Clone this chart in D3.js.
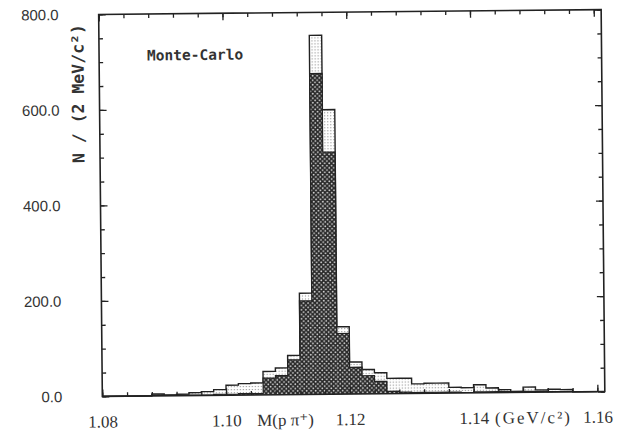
<!DOCTYPE html>
<html>
<head>
<meta charset="utf-8">
<script src="https://cdn.jsdelivr.net/npm/d3@7/dist/d3.min.js"></script>
<style>
  html, body { margin: 0; padding: 0; background: #fff; }
  svg { display: block; }
</style>
</head>
<body>
<svg id="chart" width="621" height="431"></svg>
<script>
// Invariant mass M(p pi+) histogram, 2 MeV bins (GeV/c^2)
const binLow = [
  1.080, 1.082, 1.084, 1.086, 1.088, 1.090, 1.092, 1.094, 1.096, 1.098,
  1.100, 1.102, 1.104, 1.106, 1.108, 1.110, 1.112, 1.114, 1.116, 1.118,
  1.120, 1.122, 1.124, 1.126, 1.128, 1.130, 1.132, 1.134, 1.136, 1.138,
  1.140, 1.142, 1.144, 1.146, 1.148, 1.150, 1.152, 1.154, 1.156, 1.158
];
const binWidth = 0.002;

// all reconstructed candidates (light)
const totalCounts = [
  0, 0, 0, 0, 4, 2, 3, 6, 8, 12,
  21, 24, 25, 49, 56, 82, 212, 752, 596, 141,
  67, 51, 44, 32, 32, 20, 21, 21, 12, 11,
  17, 10, 6, 2, 11, 5, 6, 5, 0, 0
];
// correctly matched candidates (dark)
const signalCounts = [
  0, 0, 0, 0, 2, 1, 1, 1, 1, 2,
  2, 3, 3, 35, 40, 73, 196, 672, 507, 127,
  56, 38, 26, 5, 3, 2, 2, 2, 2, 1,
  2, 2, 2, 2, 2, 2, 1, 1, 0, 0
];

const xTickValues = [1.08, 1.10, 1.12, 1.14, 1.16];
const xTickLabels = ["1.08", "1.10", "1.12", "1.14", "1.16"];
const yTickValues = [0, 200, 400, 600, 800];
const yTickLabels = ["0.0", "200.0", "400.0", "600.0", "800.0"];
const xMin = 1.08, xMax = 1.1612;
const yMax = 800;

const svg = d3.select("#chart");
const defs = svg.append("defs");

// fine dot screen for the light histogram
const pl = defs.append("pattern").attr("id", "lightFill")
  .attr("patternUnits", "userSpaceOnUse").attr("width", 3).attr("height", 3);
pl.append("rect").attr("width", 3).attr("height", 3).attr("fill", "#fff");
pl.append("rect").attr("x", 1).attr("y", 1).attr("width", 1.1).attr("height", 1.1).attr("fill", "#909090");

// dark screen with white dots for the signal histogram
const pd = defs.append("pattern").attr("id", "darkFill")
  .attr("patternUnits", "userSpaceOnUse").attr("width", 4.5).attr("height", 4.5);
pd.append("rect").attr("width", 4.5).attr("height", 4.5).attr("fill", "#282828");
pd.append("circle").attr("cx", 1.1).attr("cy", 1.1).attr("r", 0.9).attr("fill", "#d8d8d8");
pd.append("circle").attr("cx", 3.35).attr("cy", 3.35).attr("r", 0.9).attr("fill", "#d8d8d8");

const g = svg.append("g").attr("transform", "rotate(-0.55 352 204)");

const x = d3.scaleLinear().domain([xMin, xMax]).range([100.5, 603]);
const y = d3.scaleLinear().domain([0, yMax]).range([394, 12]);

const bins = binLow.map((lo, i) => ({ lo, hi: lo + binWidth, total: totalCounts[i], signal: signalCounts[i] }));

// step outline of a histogram
const line = d3.line().x(p => x(p[0])).y(p => y(p[1]));
function stepPoints(key) {
  const pts = [[bins[0].lo, 0]];
  bins.forEach(d => { pts.push([d.lo, d[key]], [d.hi, d[key]]); });
  pts.push([bins[bins.length - 1].hi, 0]);
  return pts;
}

function fillBars(key, fill) {
  g.append("g").selectAll("rect")
    .data(bins.filter(d => d[key] > 0))
    .join("rect")
    .attr("x", d => x(d.lo))
    .attr("width", d => x(d.hi) - x(d.lo) + 0.3)
    .attr("y", d => y(d[key]))
    .attr("height", d => y(0) - y(d[key]))
    .attr("fill", fill);
}

// light (all candidates)
fillBars("total", "url(#lightFill)");
g.append("path").attr("d", line(stepPoints("total")))
  .attr("fill", "none").attr("stroke", "#222").attr("stroke-width", 1.4);

// dark (signal)
fillBars("signal", "url(#darkFill)");
g.append("path").attr("d", line(stepPoints("signal")))
  .attr("fill", "none").attr("stroke", "#222").attr("stroke-width", 1.2);

// axes with inward ticks
const xMinor = d3.range(0, 21).map(i => +(xMin + i * 0.004).toFixed(3));
const yMinor = d3.range(0, 17).map(i => i * 50);

function styleTicks(sel) {
  sel.select(".domain").remove();
  sel.selectAll(".tick line").attr("stroke", "#222").attr("stroke-width", 1.3);
}

const fmtX = d => xTickLabels[xTickValues.indexOf(d)];
const fmtY = d => yTickLabels[yTickValues.indexOf(d)];

// bottom
g.append("g").attr("transform", `translate(0,${y(0)})`)
  .call(d3.axisBottom(x).tickValues(xMinor).tickSizeInner(-4).tickSizeOuter(0).tickFormat(""))
  .call(styleTicks);
const xb = g.append("g").attr("transform", `translate(0,${y(0)})`)
  .call(d3.axisBottom(x).tickValues(xTickValues).tickSizeInner(-7).tickSizeOuter(0).tickPadding(19).tickFormat(fmtX))
  .call(styleTicks);
xb.selectAll("text")
  .attr("font-family", "'Liberation Serif', 'DejaVu Serif', serif")
  .attr("font-size", 17).attr("fill", "#333");

// top
g.append("g").attr("transform", `translate(0,${y(yMax)})`)
  .call(d3.axisTop(x).tickValues(xMinor).tickSizeInner(-4).tickSizeOuter(0).tickFormat(""))
  .call(styleTicks);
g.append("g").attr("transform", `translate(0,${y(yMax)})`)
  .call(d3.axisTop(x).tickValues(xTickValues).tickSizeInner(-7).tickSizeOuter(0).tickFormat(""))
  .call(styleTicks);

// left
g.append("g").attr("transform", `translate(${x(xMin)},0)`)
  .call(d3.axisLeft(y).tickValues(yMinor).tickSizeInner(-4).tickSizeOuter(0).tickFormat(""))
  .call(styleTicks);
const yl = g.append("g").attr("transform", `translate(${x(xMin)},0)`)
  .call(d3.axisLeft(y).tickValues(yTickValues).tickSizeInner(-7).tickSizeOuter(0).tickPadding(40).tickFormat(fmtY))
  .call(styleTicks);
yl.selectAll("text")
  .attr("font-family", "'Liberation Sans', Arial, sans-serif")
  .attr("font-size", 15).attr("fill", "#333");

// right
g.append("g").attr("transform", `translate(${x(xMax)},0)`)
  .call(d3.axisRight(y).tickValues(yMinor).tickSizeInner(-4).tickSizeOuter(0).tickFormat(""))
  .call(styleTicks);
g.append("g").attr("transform", `translate(${x(xMax)},0)`)
  .call(d3.axisRight(y).tickValues(yTickValues).tickSizeInner(-7).tickSizeOuter(0).tickFormat(""))
  .call(styleTicks);

// frame
g.append("rect")
  .attr("x", x(xMin)).attr("y", y(yMax))
  .attr("width", x(xMax) - x(xMin)).attr("height", y(0) - y(yMax))
  .attr("fill", "none").attr("stroke", "#222").attr("stroke-width", 1.6);

// axis titles
g.append("text")
  .attr("x", 255).attr("y", y(0) + 31)
  .attr("font-family", "'Liberation Serif', 'DejaVu Serif', serif")
  .attr("font-size", 17).attr("fill", "#333")
  .text("M(p π⁺)");
g.append("text")
  .attr("x", 493).attr("y", y(0) + 31)
  .attr("font-family", "'Liberation Serif', 'DejaVu Serif', serif")
  .attr("font-size", 17).attr("letter-spacing", 2).attr("fill", "#333")
  .text("(GeV/c²)");

g.append("text")
  .attr("transform", "translate(85,91) rotate(-90)")
  .attr("text-anchor", "middle")
  .attr("font-family", "'DejaVu Sans Mono', monospace")
  .attr("font-weight", "bold")
  .attr("font-size", 16.5).attr("fill", "#333")
  .text("N / (2 MeV/c²)");

g.append("text")
  .attr("x", 148.5).attr("y", 58.5)
  .attr("font-family", "'DejaVu Sans Mono', monospace")
  .attr("font-weight", "bold")
  .attr("font-size", 14.5).attr("fill", "#333")
  .text("Monte-Carlo");
</script>
</body>
</html>
